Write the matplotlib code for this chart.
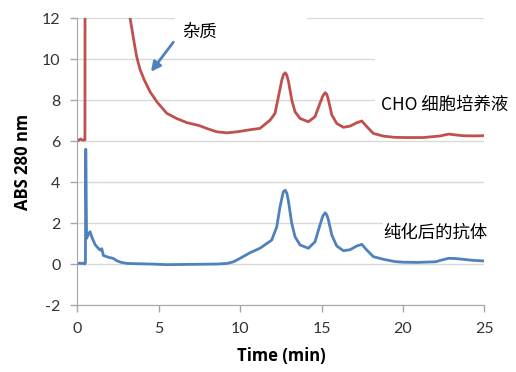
import numpy as np
import matplotlib
matplotlib.use("Agg")
import matplotlib.pyplot as plt
from matplotlib.patches import Rectangle

plt.rcParams['font.family'] = ['Lato', 'DejaVu Sans']
plt.rcParams['axes.unicode_minus'] = False
cjk = ['Noto Sans CJK SC', 'DejaVu Sans']

# CHO cell culture trace (red), minutes / absorbance
t_cho = [0, 0.1, 0.2, 0.3, 0.4, 0.47, 0.5, 3.0, 3.24, 3.45, 3.65, 3.85, 4.1, 4.47,
         4.9, 5.5, 6.1, 6.72, 7.5, 8.0, 8.57, 9.2, 9.8, 10.6, 11.22, 11.84, 12.14,
         12.35, 12.56, 12.67, 12.77, 12.87, 12.97, 13.17, 13.37, 13.68, 14.19, 14.6,
         14.9, 15.08, 15.22, 15.32, 15.42, 15.63, 15.93, 16.34, 16.75, 17.16,
         17.47, 17.78, 18.18, 18.8, 19.5, 20.2, 21.25, 22.3, 22.8, 23.2, 23.7, 24.3, 25]
v_cho = [6.0, 6.05, 6.1, 6.05, 6.05, 6.05, 40, 13.5, 12.0, 11.0, 10.1, 9.5, 9.0, 8.4,
         7.9, 7.35, 7.1, 6.9, 6.75, 6.6, 6.45, 6.4, 6.45, 6.55, 6.62, 7.02, 7.35,
         8.16, 8.98, 9.25, 9.33, 9.2, 8.9, 8.0, 7.43, 7.1, 6.94, 7.19,
         7.84, 8.2, 8.36, 8.28, 8.0, 7.27, 6.86, 6.67, 6.73, 6.89,
         6.98, 6.7, 6.37, 6.24, 6.18, 6.17, 6.17, 6.25, 6.34, 6.3, 6.26, 6.25, 6.26]

# purified antibody trace (blue)
t_ab = [0, 0.15, 0.25, 0.35, 0.45, 0.5, 0.52, 0.57, 0.65, 0.78, 0.9, 1.09, 1.25, 1.4,
        1.5, 1.6, 1.8, 2.0, 2.2, 2.42, 2.7, 3.04, 3.5, 4.5, 5.5, 6.5, 7.5, 8.57, 9.2,
        9.59, 10.0, 10.6, 11.22, 11.94, 12.25, 12.45, 12.65, 12.77, 12.87, 12.97,
        13.17, 13.37, 13.68, 14.19, 14.6, 14.9, 15.08, 15.22, 15.32, 15.42, 15.63,
        15.93, 16.34, 16.75, 17.16, 17.47, 17.78, 18.18, 18.8, 19.5, 20.0,
        20.9, 22.0, 22.4, 22.8, 23.2, 23.7, 24.3, 25]
v_ab = [0.0, 0.05, 0.02, 0.05, 0.0, 0.05, 5.6, 1.25, 1.4, 1.58, 1.3, 0.95, 0.8, 0.68,
        0.75, 0.42, 0.36, 0.31, 0.28, 0.16, 0.08, 0.03, 0.02, 0.0, -0.03, -0.02, -0.01, 0.0, 0.03,
        0.11, 0.28, 0.55, 0.77, 1.17, 1.82, 2.8, 3.53, 3.6, 3.45, 3.04,
        1.98, 1.33, 0.93, 0.77, 1.09, 1.9, 2.35, 2.5, 2.4, 2.15, 1.41,
        0.88, 0.65, 0.7, 0.88, 0.96, 0.68, 0.36, 0.23, 0.12, 0.09,
        0.08, 0.11, 0.2, 0.28, 0.27, 0.23, 0.18, 0.15]

x_ticks = [0, 5, 10, 15, 20, 25]
y_ticks = [-2, 0, 2, 4, 6, 8, 10, 12]

fig = plt.figure(figsize=(5.16, 3.72), dpi=100)
ax = fig.add_axes([0.1498, 0.180, 0.789, 0.7715])
ax.set_axisbelow(True)

ax.plot(t_cho, v_cho, color='#C0504D', lw=2.0, zorder=2, solid_joinstyle='round')
ax.plot(t_ab, v_ab, color='#4F81BD', lw=2.0, zorder=2, solid_joinstyle='round')

ax.set_xlim(0, 25)
ax.set_ylim(-2, 12)
ax.set_xticks(x_ticks)
ax.set_yticks(y_ticks)
ax.yaxis.grid(True, color='#D9D9D9', lw=1)

for s in ['top', 'right']:
    ax.spines[s].set_visible(False)
for s in ['left', 'bottom']:
    ax.spines[s].set_color('#A6A6A6')
ax.tick_params(colors='#A6A6A6', length=5, width=1, labelcolor='#333333', labelsize=11.5)
ax.tick_params(axis='y', pad=7)
ax.tick_params(axis='x', pad=7)

ax.set_xlabel('Time (min)', family=['Open Sans', 'DejaVu Sans'], fontsize=12,
              fontweight='bold', labelpad=8)
ax.set_ylabel('ABS 280 nm', family=['Open Sans', 'DejaVu Sans'], fontsize=12,
              fontweight='bold', labelpad=7)

# white text boxes hiding gridlines, like the original
for x0, y0, w, h in [(6.0, 10.6, 8.1, 2.5), (18.3, 7.5, 8.0, 3.5), (18.8, 1.0, 8.0, 2.0)]:
    ax.add_patch(Rectangle((x0, y0), w, h, facecolor='white', edgecolor='none',
                           zorder=1, clip_on=False))

ax.text(6.45, 11.34, '杂质', family=cjk, fontsize=12.5, va='center', ha='left', zorder=3)
ax.text(18.65, 7.78, 'CHO 细胞培养液', family=cjk, fontsize=12.5, va='center', ha='left', zorder=3)
ax.text(18.81, 1.51, '纯化后的抗体', family=cjk, fontsize=12.5, va='center', ha='left', zorder=3)

ax.annotate('', xy=(4.42, 9.27), xytext=(6.0, 10.93),
            arrowprops=dict(arrowstyle='-|>', color='#4F81BD', lw=2, mutation_scale=14),
            zorder=3)

fig.savefig('out.png', dpi=100)
